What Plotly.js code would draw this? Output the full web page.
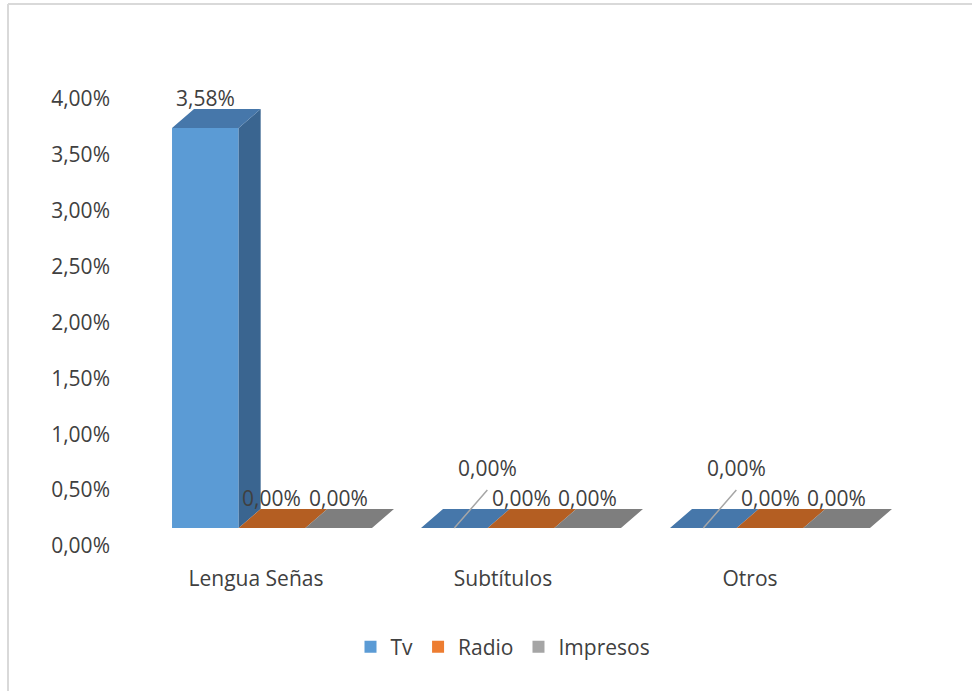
<!DOCTYPE html>
<html>
<head>
<meta charset="utf-8">
<script src="https://cdn.plot.ly/plotly-3.0.1.min.js"></script>
<style>html,body{margin:0;padding:0;background:#fff;}#chart{width:972px;height:691px;}</style>
</head>
<body>
<div id="chart"></div>
<script>
// ---- data ----
const categories = ['Lengua Señas', 'Subtítulos', 'Otros'];
const seriesNames = ['Tv', 'Radio', 'Impresos'];
const tv = [0.0358, 0, 0];
const radio = [0, 0, 0];
const impresos = [0, 0, 0];
const yTickVals = [0, 0.005, 0.01, 0.015, 0.02, 0.025, 0.03, 0.035, 0.04];

// ---- styles ----
const frontColors = ['#5B9BD5', '#ED7D31', '#A5A5A5'];
const topColors = ['#4677AA', '#B45E22', '#7E7E7E'];
const sideColors = ['#3A6590', '#9A4F1C', '#6B6B6B'];
const FONT = 'Open Sans, Liberation Sans, sans-serif';
const TXT = '#404040';

const W = 972, H = 691;
const M = {l: 120, r: 52, t: 80, b: 131};
const plotW = W - M.l - M.r, plotH = H - M.t - M.b;
const xLabRange = [-0.5506, 2.6883];
const x2Range = [-0.6104, 2.6024];
const yLabRange = [-0.0012528, 0.0417002];
const y2Range = [-0.0028635, 0.0400895];
const bargap = 0.197;
const DEPTH_X_PX = 22, DEPTH_Y_PX = 19;
const DX = DEPTH_X_PX * (x2Range[1] - x2Range[0]) / plotW;
const DY = DEPTH_Y_PX * (y2Range[1] - y2Range[0]) / plotH;

const series = [tv, radio, impresos];
const nS = series.length;
const bw = (1 - bargap) / nS;
const idx = categories.map((c, i) => i);

const traces = [];
// dummy invisible trace to create the labelled subplot
traces.push({type: 'scatter', x: idx, y: idx.map(() => 0), mode: 'markers',
  marker: {opacity: 0}, showlegend: false, hoverinfo: 'skip', xaxis: 'x', yaxis: 'y'});

// front faces
series.forEach((vals, k) => {
  traces.push({type: 'bar', name: seriesNames[k], x: idx, y: vals,
    marker: {color: frontColors[k], line: {width: 0}},
    xaxis: 'x2', yaxis: 'y2', hoverinfo: 'skip'});
});

// 3D top and side faces
series.forEach((vals, k) => {
  const tx = [], ty = [], sx = [], sy = [];
  vals.forEach((v, i) => {
    const c = i + (k - (nS - 1) / 2) * bw;
    const xl = c - bw / 2, xr = c + bw / 2;
    tx.push(xl, xr, xr + DX, xl + DX, xl, null);
    ty.push(v, v, v + DY, v + DY, v, null);
    if (v > 0) {
      sx.push(xr, xr + DX, xr + DX, xr, xr, null);
      sy.push(0, DY, v + DY, v, 0, null);
    }
  });
  if (sx.length) traces.push({type: 'scatter', x: sx, y: sy, mode: 'lines', fill: 'toself',
    fillcolor: sideColors[k], line: {width: 0}, showlegend: false, hoverinfo: 'skip',
    xaxis: 'x2', yaxis: 'y2'});
  traces.push({type: 'scatter', x: tx, y: ty, mode: 'lines', fill: 'toself',
    fillcolor: topColors[k], line: {width: 0}, showlegend: false, hoverinfo: 'skip',
    xaxis: 'x2', yaxis: 'y2'});
});

// data labels
function fmt(v) { return (v * 100).toFixed(2).replace('.', ',') + '%'; }
const annotations = [];
series.forEach((vals, k) => {
  vals.forEach((v, i) => {
    const c = i + (k - (nS - 1) / 2) * bw;
    if (k === 0 && v === 0) {
      annotations.push({xref: 'x2', yref: 'y2', x: c, y: 0, text: fmt(v),
        showarrow: true, arrowhead: 0, arrowwidth: 1.5, arrowcolor: '#A6A6A6',
        ax: 33, ay: -38, xanchor: 'center', yanchor: 'bottom', borderpad: 7,
        font: {family: FONT, size: 21, color: TXT}});
    } else {
      annotations.push({xref: 'x2', yref: 'y2', x: c, y: v + DY, text: fmt(v),
        showarrow: false, xanchor: 'center', yanchor: 'bottom', yshift: -5,
        font: {family: FONT, size: 21, color: TXT}});
    }
  });
});

// outer frame (top and left edges)
const px2paperX = p => (p - M.l) / plotW;
const px2paperY = p => (H - M.b - p) / plotH;
const shapes = [
  {type: 'line', xref: 'paper', yref: 'paper', x0: px2paperX(8), x1: px2paperX(8),
   y0: px2paperY(4), y1: px2paperY(H), line: {color: '#D9D9D9', width: 2}},
  {type: 'line', xref: 'paper', yref: 'paper', x0: px2paperX(8), x1: px2paperX(W),
   y0: px2paperY(4), y1: px2paperY(4), line: {color: '#D9D9D9', width: 2}}
];

const layout = {
  width: W, height: H,
  margin: M,
  paper_bgcolor: '#ffffff', plot_bgcolor: 'rgba(0,0,0,0)',
  separators: ',.',
  font: {family: FONT, size: 21, color: TXT},
  showlegend: true,
  barmode: 'group', bargap: bargap, bargroupgap: 0,
  hovermode: false,
  xaxis: {range: xLabRange, tickvals: idx, ticktext: categories, showgrid: false,
    zeroline: false, showline: false, ticks: '', fixedrange: true, ticklabelstandoff: 4,
    tickfont: {family: FONT, size: 21, color: TXT}},
  yaxis: {range: yLabRange, tickvals: yTickVals, tickformat: '.2%', showgrid: false,
    zeroline: false, showline: false, ticks: '', fixedrange: true, ticklabelstandoff: 9,
    tickfont: {family: FONT, size: 21, color: TXT}},
  xaxis2: {overlaying: 'x', range: x2Range, visible: false, fixedrange: true},
  yaxis2: {overlaying: 'y', range: y2Range, visible: false, fixedrange: true},
  legend: {orientation: 'h', xref: 'container', yref: 'container',
    x: 503 / W, xanchor: 'center', y: 1 - 647 / H, yanchor: 'middle',
    font: {family: FONT, size: 21, color: TXT}, itemwidth: 30, traceorder: 'normal'},
  annotations: annotations,
  shapes: shapes
};

Plotly.newPlot('chart', traces, layout, {displayModeBar: false, staticPlot: true});
</script>
</body>
</html>
